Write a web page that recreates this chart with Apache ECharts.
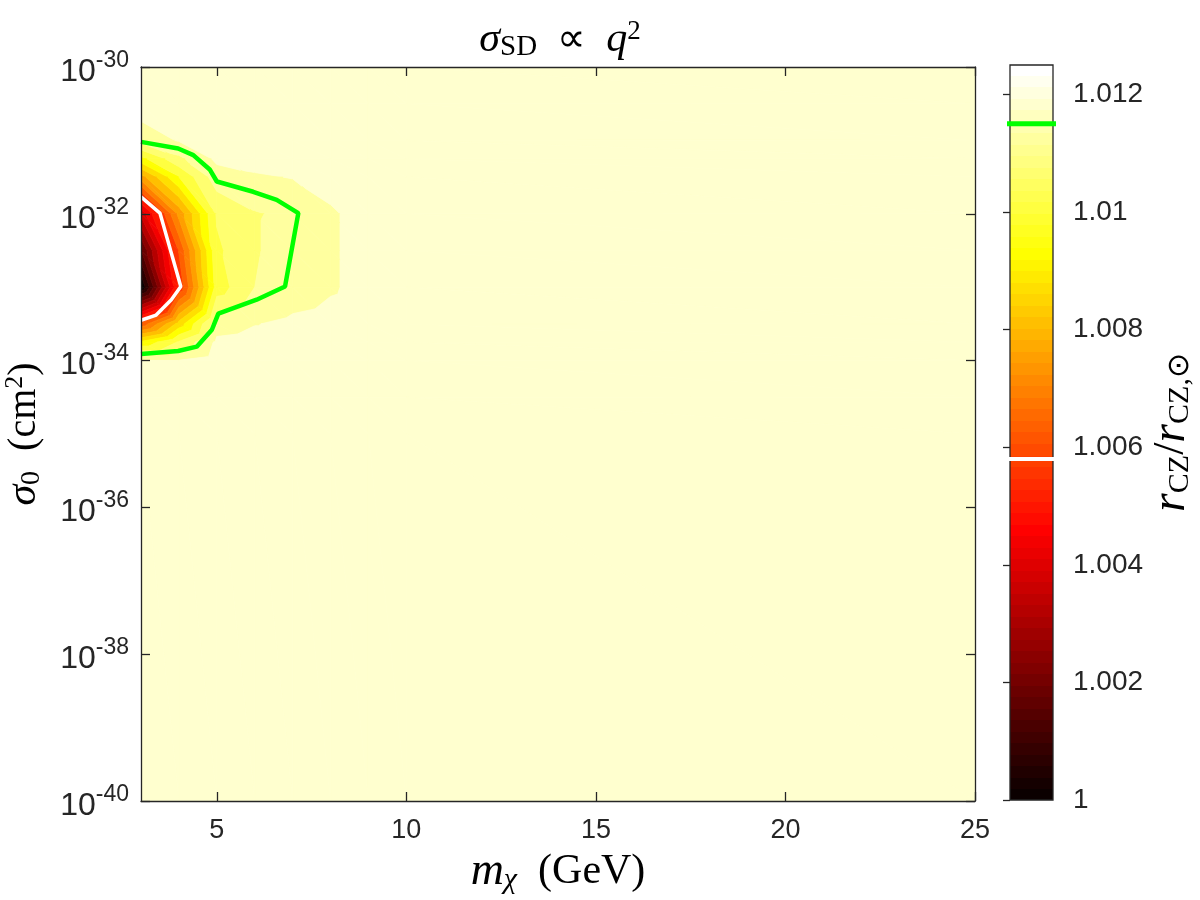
<!DOCTYPE html>
<html>
<head>
<meta charset="utf-8">
<script src="https://cdn.jsdelivr.net/npm/echarts@6/dist/echarts.min.js"></script>
<style>
  html, body { margin: 0; background: #fff; }
  #chart { width: 1200px; height: 900px; }
</style>
</head>
<body>
<div id="chart"></div>
<script>
// grid nodes of the map: dark matter mass (GeV) and log10 of sigma_0 (cm^2)
var massNodes = [3, 4, 5, 6, 7, 8, 9, 10, 25];
var logSigmaNodes = [-30, -30.5, -31, -31.25, -31.5, -32, -32.5, -33, -33.5, -33.75, -34, -34.5, -35, -40];
// r_CZ / r_CZ,sun, one row per logSigmaNodes entry, one column per massNodes entry
var ratioRows = [
  [1.0122, 1.0122, 1.0122, 1.0122, 1.0122, 1.0122, 1.0122, 1.0122, 1.0122],
  [1.0122, 1.0122, 1.0122, 1.0122, 1.0122, 1.0122, 1.0122, 1.0122, 1.0122],
  [1.01152, 1.01192, 1.0122, 1.0122, 1.0122, 1.0122, 1.0122, 1.0122, 1.0122],
  [1.0098, 1.0111, 1.0120, 1.0121, 1.0122, 1.0122, 1.0122, 1.0122, 1.0122],
  [1.00786, 1.0100, 1.0116, 1.0118, 1.0119, 1.0121, 1.0122, 1.0122, 1.0122],
  [1.0039, 1.0077, 1.0107, 1.0112, 1.0114, 1.0118, 1.0121, 1.0122, 1.0122],
  [1.0018, 1.0063, 1.0105, 1.0112, 1.0115, 1.0118, 1.0121, 1.0122, 1.0122],
  [1.0000, 1.0057, 1.0103, 1.01125, 1.01155, 1.0118, 1.0121, 1.0122, 1.0122],
  [1.0064, 1.0090, 1.0116, 1.01185, 1.0120, 1.0121, 1.0122, 1.0122, 1.0122],
  [1.0095, 1.0107, 1.0120, 1.0121, 1.0121, 1.0122, 1.0122, 1.0122, 1.0122],
  [1.0119, 1.0119, 1.0122, 1.0122, 1.0122, 1.0122, 1.0122, 1.0122, 1.0122],
  [1.0122, 1.0122, 1.0122, 1.0122, 1.0122, 1.0122, 1.0122, 1.0122, 1.0122],
  [1.0122, 1.0122, 1.0122, 1.0122, 1.0122, 1.0122, 1.0122, 1.0122, 1.0122],
  [1.0122, 1.0122, 1.0122, 1.0122, 1.0122, 1.0122, 1.0122, 1.0122, 1.0122]
];
// filled contour levels
var contourLevels = [1, 1.000625, 1.00125, 1.001875, 1.0025, 1.003125, 1.00375, 1.004375,
  1.005, 1.005625, 1.00625, 1.006875, 1.0075, 1.008125, 1.00875, 1.009375,
  1.01, 1.010625, 1.01125, 1.011875, 1.0125];
var colorLimits = [1, 1.0125];

// highlighted contours (mass, log10 sigma)
var greenLevel = 1.0115;
var greenContour = [[3, -31.02], [3.98, -31.11], [4.38, -31.2], [4.82, -31.4], [5, -31.56],
  [5.96, -31.7], [6.58, -31.81], [7.15, -31.99], [6.8, -32.99], [6.05, -33.17],
  [5.04, -33.36], [4.87, -33.58], [4.47, -33.81], [3.98, -33.87], [3, -33.91]];
var whiteLevel = 1.0058;
var whiteContour = [[3, -31.77], [3.5, -31.99], [4.05, -32.99], [3.8, -33.17], [3.4, -33.38], [3, -33.45]];

var massTicks = [5, 10, 15, 20, 25];
var colorTicks = [1, 1.002, 1.004, 1.006, 1.008, 1.01, 1.012];

var axisColor = '#262626';
var sans = "'Liberation Sans', Arial, Helvetica, sans-serif";
var serif = "'Liberation Serif', 'Times New Roman', serif";

// MATLAB hot colormap, 64 entries, i = 1..64
function hotColor(i) {
  var r = i <= 24 ? i / 24 : 1;
  var g = i <= 24 ? 0 : (i <= 48 ? (i - 24) / 24 : 1);
  var b = i <= 48 ? 0 : (i - 48) / 16;
  return 'rgb(' + Math.round(r * 255) + ',' + Math.round(g * 255) + ',' + Math.round(b * 255) + ')';
}
function levelColor(v) {
  var t = (v - colorLimits[0]) / (colorLimits[1] - colorLimits[0]);
  var i = Math.floor(t * 64) + 1;
  return hotColor(Math.max(1, Math.min(64, i)));
}

// keep the part of a polygon where sign * (value - lvl) >= 0
function clipPoly(poly, lvl, sign) {
  var out = [];
  for (var k = 0; k < poly.length; k++) {
    var p = poly[k], q = poly[(k + 1) % poly.length];
    var pin = sign * (p[2] - lvl) >= 0, qin = sign * (q[2] - lvl) >= 0;
    if (pin) out.push(p);
    if (pin !== qin) {
      var t = (lvl - p[2]) / (q[2] - p[2]);
      out.push([p[0] + t * (q[0] - p[0]), p[1] + t * (q[1] - p[1]), lvl]);
    }
  }
  return out;
}

var cells = [];
for (var j = 0; j < logSigmaNodes.length - 1; j++) {
  for (var i = 0; i < massNodes.length - 1; i++) {
    cells.push([massNodes[i], logSigmaNodes[j], massNodes[i + 1], logSigmaNodes[j + 1],
      ratioRows[j][i], ratioRows[j][i + 1], ratioRows[j + 1][i + 1], ratioRows[j + 1][i]]);
  }
}

function renderCell(params, api) {
  var x0 = api.value(0), y0 = api.value(1), x1 = api.value(2), y1 = api.value(3);
  var c = [[x0, y0, api.value(4)], [x1, y0, api.value(5)], [x1, y1, api.value(6)], [x0, y1, api.value(7)]];
  var tris = [[c[0], c[1], c[2]], [c[0], c[2], c[3]]];
  var children = [];
  tris.forEach(function (tri) {
    var vs = tri.map(function (p) { return p[2]; });
    var vmin = Math.min.apply(null, vs), vmax = Math.max.apply(null, vs);
    var n = contourLevels.length - 1;
    for (var k = 0; k < n; k++) {
      var lo = k === 0 ? -Infinity : contourLevels[k];
      var hi = k === n - 1 ? Infinity : contourLevels[k + 1];
      if (vmax < lo || vmin >= hi) continue;
      var part = tri;
      if (lo > -Infinity) part = clipPoly(part, lo, 1);
      if (hi < Infinity && part.length) part = clipPoly(part, hi, -1);
      if (part.length < 3) continue;
      var col = levelColor(contourLevels[k]);
      children.push({
        type: 'polygon',
        shape: { points: part.map(function (p) { return api.coord([p[0], p[1]]); }) },
        style: { fill: col, stroke: col, lineWidth: 0.8 }
      });
    }
  });
  return { type: 'group', children: children };
}

function renderColorbar(params, api) {
  var p0 = api.coord([0, api.value(0)]);
  var p1 = api.coord([1, api.value(1)]);
  var stops = [];
  for (var i = 1; i <= 64; i++) {
    var col = hotColor(i);
    stops.push({ offset: (i - 1) / 64, color: col }, { offset: i / 64, color: col });
  }
  return {
    type: 'rect',
    shape: { x: p0[0], y: p1[1], width: p1[0] - p0[0], height: p0[1] - p1[1] },
    style: {
      fill: { type: 'linear', x: 0, y: 1, x2: 0, y2: 0, colorStops: stops },
      stroke: axisColor, lineWidth: 1.3
    }
  };
}

var tickStyle = { inside: true, length: 9, lineStyle: { color: axisColor, width: 1.3 } };
var lineStyle = { lineStyle: { color: axisColor, width: 1.3 } };

var option = {
  backgroundColor: '#fff',
  animation: false,
  graphic: [{
    type: 'text', x: 560, y: 40, z: 20,
    style: {
      text: '{i|σ}{sub|SD}{r|  ∝  }{i|q}{sup|2}',
      align: 'center', verticalAlign: 'middle',
      rich: {
        i: { fontFamily: serif, fontStyle: 'italic', fontSize: 42, lineHeight: 44, fill: '#000' },
        r: { fontFamily: serif, fontSize: 40, lineHeight: 44, fill: '#000' },
        sub: { fontFamily: serif, fontSize: 29, lineHeight: 44, verticalAlign: 'bottom', padding: [15, 0, 0, 0], fill: '#000' },
        sup: { fontFamily: serif, fontSize: 27, lineHeight: 44, verticalAlign: 'top', padding: [0, 0, 15, 0], fill: '#000' }
      }
    }
  }],
  grid: [
    { left: 141, top: 67, width: 834, height: 734, outerBoundsMode: 'none' },
    { left: 1010, top: 65, width: 43, height: 735, outerBoundsMode: 'none' }
  ],
  xAxis: [
    {
      type: 'value', gridIndex: 0, min: 3, max: 25, z: 10,
      axisLine: lineStyle, splitLine: { show: false },
      axisTick: Object.assign({ customValues: massTicks }, tickStyle),
      axisLabel: { customValues: massTicks, fontFamily: sans, fontSize: 27, color: axisColor, margin: 16 },
      name: '{i|m}{sub|χ}{r|  (GeV)}', nameLocation: 'middle', nameGap: 29,
      nameTextStyle: {
        verticalAlign: 'top',
        rich: {
          i: { fontFamily: serif, fontStyle: 'italic', fontSize: 46, lineHeight: 46, color: '#000' },
          sub: { fontFamily: serif, fontStyle: 'italic', fontSize: 30, lineHeight: 46, verticalAlign: 'bottom', padding: [16, 0, 0, 0], color: '#000' },
          r: { fontFamily: serif, fontSize: 42, lineHeight: 46, color: '#000' }
        }
      }
    },
    {
      type: 'value', gridIndex: 0, position: 'top', min: 3, max: 25, z: 10,
      axisLine: lineStyle, splitLine: { show: false },
      axisTick: Object.assign({ customValues: massTicks }, tickStyle),
      axisLabel: { show: false }
    },
    { type: 'value', gridIndex: 1, min: 0, max: 1, show: false }
  ],
  yAxis: [
    {
      type: 'value', gridIndex: 0, min: -40, max: -30, interval: 2, z: 10,
      axisLine: lineStyle, splitLine: { show: false }, axisTick: tickStyle,
      axisLabel: {
        margin: 12, color: axisColor,
        formatter: function (v) { return '{b|10}{s|' + Math.round(v) + '}'; },
        rich: {
          b: { fontFamily: sans, fontSize: 32, lineHeight: 36, color: axisColor, padding: [10, 0, 0, 0] },
          s: { fontFamily: sans, fontSize: 23, lineHeight: 36, verticalAlign: 'top', color: axisColor }
        }
      },
      name: '{i|σ}{sub|0}{r|  (cm}{sup|2}{r|)}', nameLocation: 'middle', nameRotate: 90, nameGap: 95,
      nameTextStyle: {
        rich: {
          i: { fontFamily: serif, fontStyle: 'italic', fontSize: 42, lineHeight: 44, color: '#000' },
          sub: { fontFamily: serif, fontSize: 28, lineHeight: 44, verticalAlign: 'bottom', padding: [16, 0, 0, 0], color: '#000' },
          r: { fontFamily: serif, fontSize: 40, lineHeight: 44, color: '#000' },
          sup: { fontFamily: serif, fontSize: 26, lineHeight: 44, verticalAlign: 'top', padding: [0, 0, 16, 0], color: '#000' }
        }
      }
    },
    {
      type: 'value', gridIndex: 0, position: 'right', min: -40, max: -30, interval: 2, z: 10,
      axisLine: lineStyle, splitLine: { show: false }, axisTick: tickStyle,
      axisLabel: { show: false }
    },
    {
      type: 'value', gridIndex: 1, position: 'right', min: colorLimits[0], max: colorLimits[1], z: 10,
      axisLine: { show: false }, splitLine: { show: false },
      axisTick: { inside: true, length: 7, customValues: colorTicks, lineStyle: { color: axisColor, width: 1.3 } },
      axisLabel: {
        customValues: colorTicks, margin: 20, fontFamily: sans, fontSize: 28, color: axisColor,
        formatter: function (v) { return String(parseFloat(v.toFixed(3))); }
      },
      name: '{i|r}{sub|CZ}{r|/}{i|r}{sub|CZ,⊙}', nameLocation: 'middle', nameRotate: 90, nameGap: 88,
      nameTextStyle: {
        rich: {
          i: { fontFamily: serif, fontStyle: 'italic', fontSize: 48, lineHeight: 48, color: '#000' },
          r: { fontFamily: serif, fontSize: 44, lineHeight: 48, color: '#000' },
          sub: { fontFamily: serif, fontSize: 30, lineHeight: 48, verticalAlign: 'bottom', padding: [18, 0, 0, 0], color: '#000' }
        }
      }
    }
  ],
  series: [
    {
      type: 'custom', name: 'map', xAxisIndex: 0, yAxisIndex: 0, clip: true, z: 1,
      data: cells, encode: { x: [0, 2], y: [1, 3] }, renderItem: renderCell, silent: true
    },
    {
      type: 'line', name: 'green', xAxisIndex: 0, yAxisIndex: 0, data: greenContour, z: 5,
      showSymbol: false, symbol: 'none', lineStyle: { color: '#00ff00', width: 4.5 }, silent: true
    },
    {
      type: 'line', name: 'white', xAxisIndex: 0, yAxisIndex: 0, data: whiteContour, z: 5,
      showSymbol: false, symbol: 'none', lineStyle: { color: '#ffffff', width: 3.5 }, silent: true
    },
    {
      type: 'custom', name: 'colorbar', xAxisIndex: 2, yAxisIndex: 2, z: 1,
      data: [[colorLimits[0], colorLimits[1]]], encode: { y: [0, 1] }, renderItem: renderColorbar, silent: true
    },
    {
      type: 'line', xAxisIndex: 2, yAxisIndex: 2, clip: false, z: 5, symbol: 'none',
      data: [[-0.08, greenLevel], [1.12, greenLevel]], lineStyle: { color: '#00ff00', width: 5 }, silent: true
    },
    {
      type: 'line', xAxisIndex: 2, yAxisIndex: 2, clip: false, z: 5, symbol: 'none',
      data: [[-0.08, whiteLevel], [1.12, whiteLevel]], lineStyle: { color: '#ffffff', width: 4 }, silent: true
    }
  ]
};

var chart = echarts.init(document.getElementById('chart'));
chart.setOption(option);
</script>
</body>
</html>
